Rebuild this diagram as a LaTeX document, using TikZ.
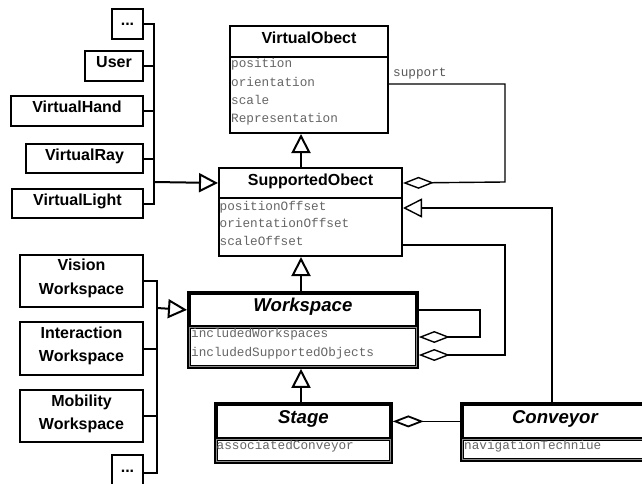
\documentclass[tikz,border=0pt]{standalone}
\usepackage{fontspec}
\setmainfont{Liberation Sans}
\newfontfamily\monof{Liberation Mono}
\usetikzlibrary{arrows.meta,calc}
\begin{document}
\begin{tikzpicture}[x=1pt,y=-1pt,
  lbox/.style={draw, line width=2pt, inner sep=0pt, anchor=north west,
    font=\fontsize{16}{23.3}\selectfont\bfseries, text height=9pt, text depth=5pt},
  lbox2/.style={draw, line width=2pt, inner sep=0pt, anchor=north west,
    font=\fontsize{16}{23.3}\selectfont\bfseries, align=center,
    execute at end node={\rule[-8.3pt]{0pt}{8.3pt}}},
  ctitle/.style={draw, line width=2pt, inner sep=0pt, anchor=north west,
    font=\fontsize{16}{19}\selectfont\bfseries, text height=9pt, text depth=5pt},
  cattr/.style={draw, line width=2pt, inner sep=0pt, anchor=north west},
  ktitle/.style={draw, line width=3.8pt, inner sep=0pt, anchor=north west,
    font=\fontsize{18.6}{22}\selectfont\bfseries\itshape, text height=11pt, text depth=7pt},
  kattr/.style={draw, line width=3.8pt, inner sep=0pt, anchor=north west},
  inner frame/.style={draw=black!45, line width=0.7pt},
  attr/.style={anchor=base west, inner sep=0pt, text=black!60,
    font=\monof\fontsize{12.7}{14}\selectfont},
  lconn/.style={line width=2pt},
  rconn/.style={line width=1.4pt},
  inh/.style={-{Triangle[open,length=19pt,width=19pt]}},
  agg/.style={-{Diamond[open,length=31pt,width=12pt]}}
]
\fill[white] (0,0) rectangle (642,484);
\useasboundingbox (0,0) rectangle (642,484);
\clip (0,0) rectangle (642,484);

% left upper group
\node[lbox, minimum width=31pt, minimum height=30pt] (dotsA) at (111,8) {...};
\node[lbox, minimum width=58pt, minimum height=30pt] (user) at (84,50) {User};
\node[lbox, minimum width=132pt, minimum height=30pt] (vhand) at (10,95) {VirtualHand};
\node[lbox, minimum width=117pt, minimum height=29pt] (vray) at (25,143) {VirtualRay};
\node[lbox, minimum width=131pt, minimum height=29pt] (vlight) at (11,188) {VirtualLight};

% left lower group
\node[lbox2, minimum width=123pt, minimum height=52pt] (vision) at (19,254) {Vision\\Workspace};
\node[lbox2, minimum width=123pt, minimum height=53pt] (inter) at (19,321) {Interaction\\Workspace};
\node[lbox2, minimum width=123pt, minimum height=52pt] (mobil) at (19,389) {Mobility\\Workspace};
\node[lbox, minimum width=31pt, minimum height=36pt, text height=6pt, text depth=7.4pt] (dotsB) at (111,454) {...};

% VirtualObect
\node[ctitle, minimum width=158pt, minimum height=31pt] (vot) at (229,25) {VirtualObect};
\node[cattr, minimum width=158pt, minimum height=76pt] (voa) at (229,56) {};
\node[attr] (voa1) at (231,67.5) {position};
\node[attr] (voa2) at (231,86.5) {orientation};
\node[attr] (voa3) at (231,105) {scale};
\node[attr] (voa4) at (231,122.5) {Representation};

% SupportedObect
\node[ctitle, minimum width=183pt, minimum height=30pt] (sot) at (218,167) {SupportedObect};
\node[cattr, minimum width=183pt, minimum height=58pt] (soa) at (218,197) {};
\node[attr] (soa1) at (219.5,210) {positionOffset};
\node[attr] (soa2) at (219.5,227.5) {orientationOffset};
\node[attr] (soa3) at (219.5,245.5) {scaleOffset};

% Workspace
\node[ktitle, minimum width=228pt, minimum height=34pt] (wst) at (187,291) {Workspace};
\node[kattr, minimum width=228pt, minimum height=40pt] (wsa) at (187,325) {};
\draw[inner frame] ($(wsa.north west)+(2.6,2.6)$) rectangle ($(wsa.south east)+(-2.6,-2.6)$);
\node[attr] (wsa1) at (191,337.5) {includedWorkspaces};
\node[attr] (wsa2) at (191,356) {includedSupportedObjects};

% Stage
\node[ktitle, minimum width=175pt, minimum height=35pt] (stt) at (214,402) {Stage};
\node[kattr, minimum width=175pt, minimum height=23pt] (sta) at (214,437) {};
\draw[inner frame] ($(sta.north west)+(2.6,2.6)$) rectangle ($(sta.south east)+(-2.6,-2.6)$);
\node[attr] (sta1) at (216.5,449.5) {associatedConveyor};

% Conveyor
\node[ktitle, minimum width=186pt, minimum height=35pt] (cvt) at (460,402) {Conveyor};
\node[kattr, minimum width=186pt, minimum height=21pt] (cva) at (460,437) {};
\draw[inner frame] ($(cva.north west)+(2.6,2.6)$) rectangle ($(cva.south east)+(-2.6,-2.6)$);
\node[attr] (cva1) at (464,449.5) {navigationTechniue};

% left buses
\coordinate (busA) at (154,182);
\foreach \n in {dotsA,user,vhand,vray,vlight} \draw[lconn] (\n.east) -| (busA);
\draw[lconn,inh] (busA) -- (sot.west);
\coordinate (busB) at (157,308);
\foreach \n in {vision,inter,mobil,dotsB} \draw[lconn] (\n.east) -| (busB);
\draw[lconn,inh] (busB) -- (wst.west);

% vertical inheritance
\coordinate (mid) at (301,0);
\draw[lconn,inh] (sot.north -| mid) -- (voa.south -| mid);
\draw[lconn,inh] (wst.north -| mid) -- (soa.south -| mid);
\draw[lconn,inh] (stt.north -| mid) -- (wsa.south -| mid);

% right connectors
\coordinate (r1) at (505,84);
\coordinate (r1b) at (505,182);
\draw[rconn,agg] (voa.east |- r1) -| (r1b) -- (sot.east);
\node[anchor=base west, inner sep=0pt, text=black!65, font=\monof\fontsize{12.7}{14}\selectfont] (suplabel) at (393,77) {support};

\coordinate (r2) at (552,208);
\draw[rconn,inh] (cvt.north -| r2) |- (soa.east |- r2);

\coordinate (r3) at (505,245);
\coordinate (r3b) at (505,355);
\draw[rconn,agg] (soa.east |- r3) -| (r3b) -- (wsa.east |- r3b);

\coordinate (r4) at (480,337);
\draw[rconn,agg] (wst.east) -| (r4) -- (wsa.east |- r4);

\draw[line width=1.8pt,agg] (cvt.west) -- (stt.east);
\end{tikzpicture}
\end{document}
